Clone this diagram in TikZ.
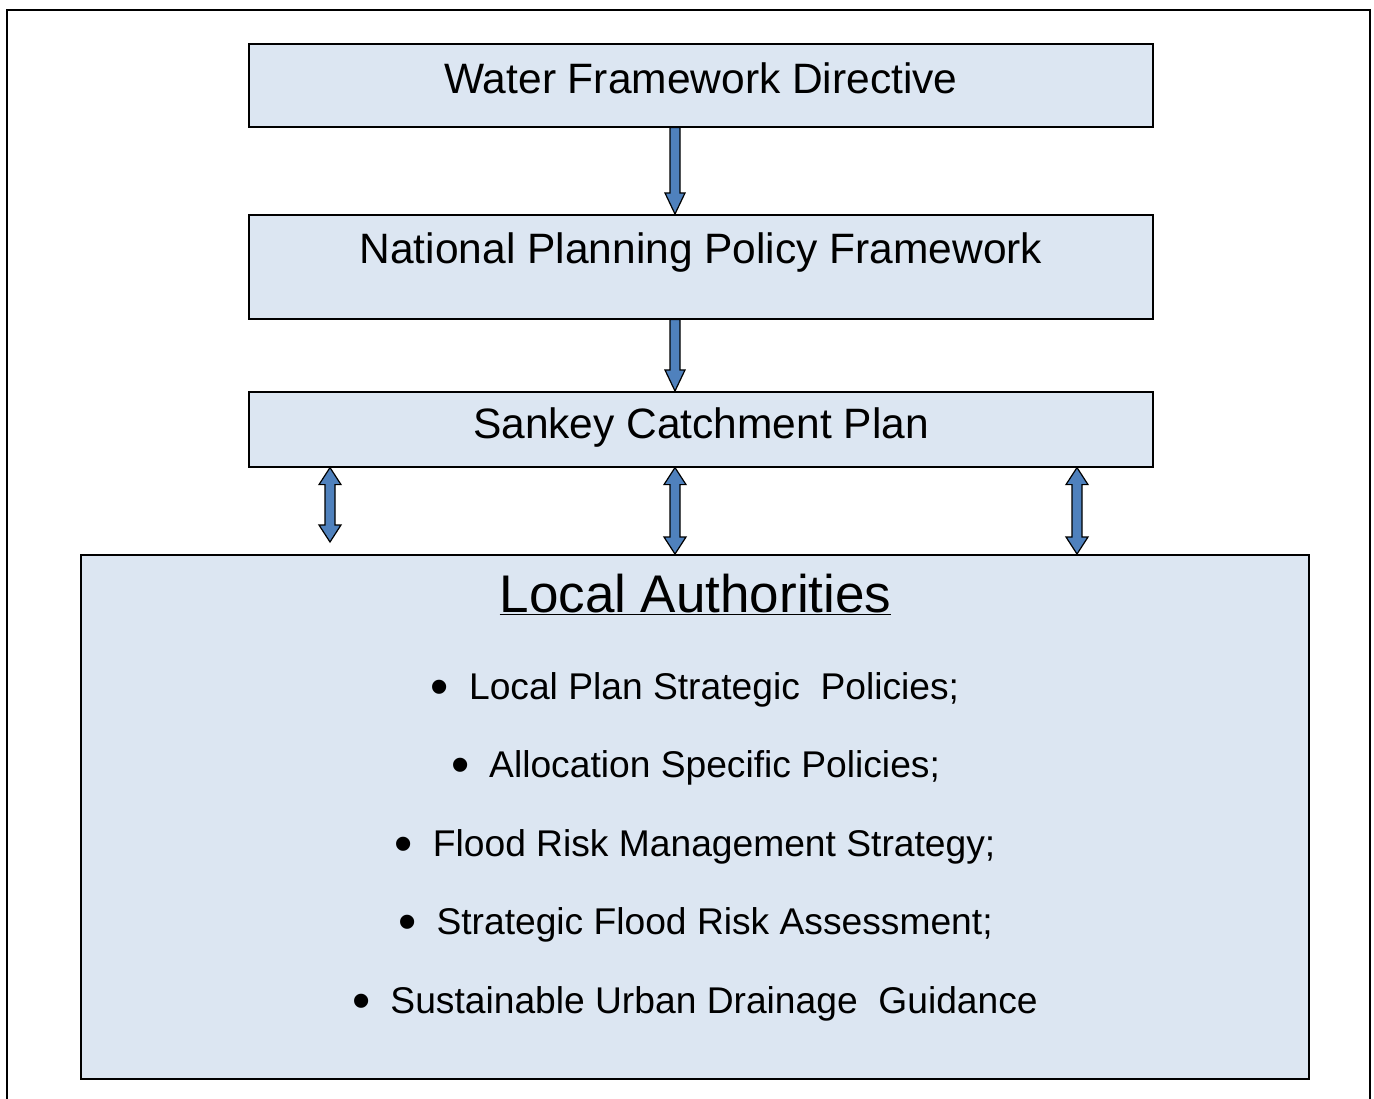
\documentclass[tikz,border=0pt]{standalone}
\usepackage{fontspec}
\setmainfont{Liberation Sans}
\usepackage{tikz}
\usepackage{xcolor}
\usetikzlibrary{calc}

\definecolor{boxfill}{HTML}{DCE6F2}
\definecolor{arrowblue}{HTML}{4F81BD}

\newcommand{\bigdot}{\raisebox{-5pt}{\fontsize{52}{52}\selectfont\textbullet}\hspace{20pt}}

\begin{document}
\begin{tikzpicture}[
            x=1pt, y=-1pt,
            box/.style={rectangle, draw, fill=boxfill, line width=1.6pt, inner sep=0pt, minimum width=904pt, anchor=north, font=\fontsize{42.5}{50}\selectfont},
            point/.style={anchor=base, inner sep=0pt, font=\fontsize{37.2}{44}\selectfont},
            downarrow/.style={draw, fill=arrowblue, line width=1.2pt, line join=miter,
                to path={let \p1=(\tikztostart), \p2=(\tikztotarget) in
                    (\x1-5pt,\y1) -- (\x1-5pt,\y2+21pt) -- (\x1-10pt,\y2+21pt) -- (\x1,\y2)
                    -- (\x1+10pt,\y2+21pt) -- (\x1+5pt,\y2+21pt) -- (\x1+5pt,\y1) -- cycle}},
            twowayarrow/.style={draw, fill=arrowblue, line width=1.2pt, line join=miter,
                to path={let \p1=(\tikztostart), \p2=(\tikztotarget) in
                    (\x1,\y1) -- (\x1+11pt,\y1-17pt) -- (\x1+5pt,\y1-17pt) -- (\x1+5pt,\y2+17pt)
                    -- (\x1+11pt,\y2+17pt) -- (\x1,\y2) -- (\x1-11pt,\y2+17pt) -- (\x1-5pt,\y2+17pt)
                    -- (\x1-5pt,\y1-17pt) -- (\x1-11pt,\y1-17pt) -- cycle}}
        ]
            \useasboundingbox (0,0) rectangle (1374,1099);

            % Outer frame (open at the bottom)
            \draw[line width=2pt] (7,1099) -- (7,10) -- (1370,10) -- (1370,1099);

            % Policy levels
            \node[box, text height=50pt, text depth=33pt] (wfd) at (701,43) {Water Framework Directive};
            \node[box, text height=49pt, text depth=55pt] (nppf) at (701,214) {National Planning Policy Framework};
            \node[box, text height=47pt, text depth=28pt] (sankey) at (701,391) {Sankey Catchment Plan};

            % Local Authorities block
            \node[box, minimum width=1228pt, minimum height=524pt] (la) at (695,554) {};
            \node[anchor=base, inner sep=0pt, font=\fontsize{53}{60}\selectfont] (latitle) at (695.5,612) {\underline{Local Authorities}};

            \node[point] (lp) at (695,699) {\bigdot Local Plan Strategic\ \ Policies;};
            \node[point] (asp) at (695.5,777.5) {\bigdot Allocation Specific Policies;};
            \node[point] (frms) at (695,856) {\bigdot Flood Risk Management Strategy;};
            \node[point] (sfra) at (695.5,934.5) {\bigdot Strategic Flood Risk Assessment;};
            \node[point] (suds) at (695,1013) {\bigdot Sustainable Urban Drainage\ \ Guidance};

            % Arrows
            \draw[downarrow] ([xshift=-26pt]wfd.south) to ([xshift=-26pt]nppf.north);
            \draw[downarrow] ([xshift=-26pt]nppf.south) to ([xshift=-26pt]sankey.north);
            \draw[twowayarrow] ([xshift=-371pt]sankey.south) to ([xshift=-365pt,yshift=12pt]la.north);
            \draw[twowayarrow] ([xshift=-26pt]sankey.south) to ([xshift=-20pt]la.north);
            \draw[twowayarrow] ([xshift=376pt]sankey.south) to ([xshift=382pt]la.north);

        \end{tikzpicture}
\end{document}
